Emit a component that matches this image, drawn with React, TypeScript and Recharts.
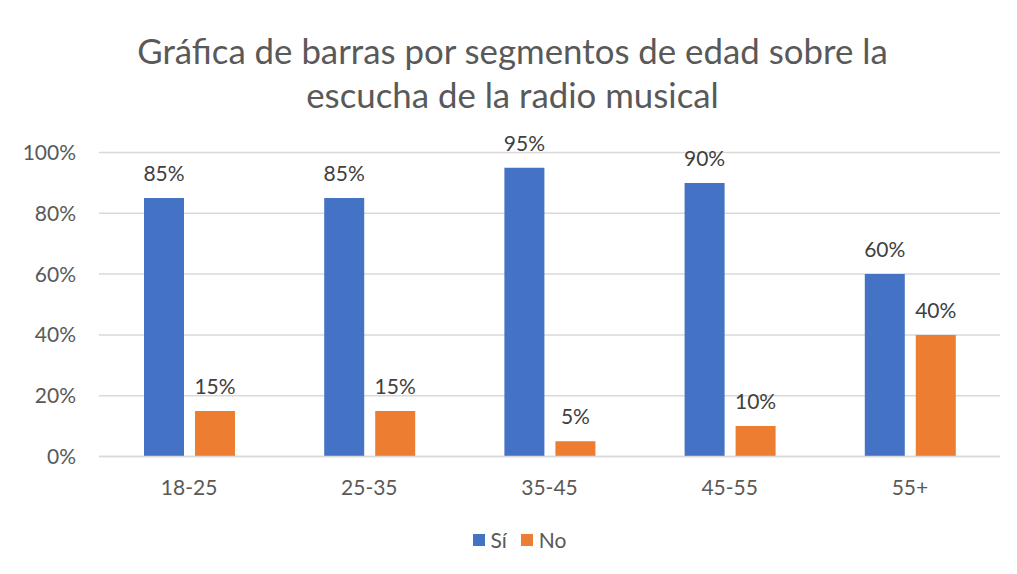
import React from 'react';
import { BarChart, Bar, XAxis, YAxis, CartesianGrid, Legend, LabelList } from 'recharts';

const ageGroups = ['18-25', '25-35', '35-45', '45-55', '55+'];
const siValues = [85, 85, 95, 90, 60];
const noValues = [15, 15, 5, 10, 40];
const yTicks = [0, 20, 40, 60, 80, 100];

const data = ageGroups.map((g, i) => ({ name: g, si: siValues[i], no: noValues[i] }));

const FONT = 'Lato, "Open Sans", sans-serif';
const GREY = '#595959';

const renderLegend = (props: any) => {
    const { payload } = props;
    return (
        <div style={{ display: 'flex', justifyContent: 'center', fontFamily: FONT, fontSize: 21, color: GREY }}>
            {payload.map((p: any) => (
                <div key={p.value} style={{ display: 'flex', alignItems: 'center', margin: '0 7px' }}>
                    <span style={{ width: 12, height: 12, background: p.color, display: 'inline-block', marginRight: 6 }} />
                    <span>{p.value}</span>
                </div>
            ))}
        </div>
    );
};

export default function App() {
    return (
        <div style={{ position: 'relative', width: 1011, height: 570, marginLeft: -3, marginTop: -2 }}>
            {/* chart frame */}
            <svg
                width={1011}
                height={570}
                style={{ position: 'absolute', left: 0, top: 0, zIndex: 5, pointerEvents: 'none' }}
            >
                <rect x={1} y={1} width={1009} height={568} fill="none" stroke="#d0d0d0" strokeWidth={2} />
            </svg>
            <div
                style={{
                    position: 'absolute',
                    top: 23,
                    left: 4,
                    width: 1007,
                    textAlign: 'center',
                    fontFamily: FONT,
                    fontSize: 34.8,
                    lineHeight: '44px',
                    color: GREY,
                }}
            >
                Gráfica de barras por segmentos de edad sobre la
                <br />
                escucha de la radio musical
            </div>
            <div style={{ position: 'absolute', left: 2, top: 2 }}>
                <BarChart
                    width={1007}
                    height={566}
                    data={data}
                    margin={{ top: 144.5, right: 14, left: 32, bottom: 57.5 }}
                    barSize={40}
                    barGap={11}
                >
                    <CartesianGrid vertical={false} stroke="#d9d9d9" strokeWidth={1.5} />
                    <XAxis
                        dataKey="name"
                        height={60}
                        axisLine={{ stroke: '#d9d9d9', strokeWidth: 1.5 }}
                        tickLine={false}
                        tickSize={0}
                        tickMargin={23.5}
                        tick={{ fill: GREY, fontSize: 21, fontFamily: FONT }}
                    />
                    <YAxis
                        width={60}
                        domain={[0, 100]}
                        ticks={yTicks}
                        tickFormatter={(v: number) => `${v}%`}
                        axisLine={false}
                        tickLine={false}
                        tickSize={0}
                        tickMargin={23}
                        tick={{ fill: GREY, fontSize: 21, fontFamily: FONT }}
                    />
                    <Legend
                        layout="horizontal"
                        verticalAlign="middle"
                        align="center"
                        itemSorter={null as any}
                        content={renderLegend}
                        wrapperStyle={{ top: 519, left: 9, width: 1007 }}
                    />
                    <Bar dataKey="si" name="Sí" fill="#4472C4" isAnimationActive={false}>
                        <LabelList
                            dataKey="si"
                            position="top"
                            offset={17}
                            formatter={(v: any) => `${v}%`}
                            style={{ fill: '#404040', fontSize: 21, fontFamily: FONT }}
                        />
                    </Bar>
                    <Bar dataKey="no" name="No" fill="#ED7D31" isAnimationActive={false}>
                        <LabelList
                            dataKey="no"
                            position="top"
                            offset={17}
                            formatter={(v: any) => `${v}%`}
                            style={{ fill: '#404040', fontSize: 21, fontFamily: FONT }}
                        />
                    </Bar>
                </BarChart>
            </div>
        </div>
    );
}
